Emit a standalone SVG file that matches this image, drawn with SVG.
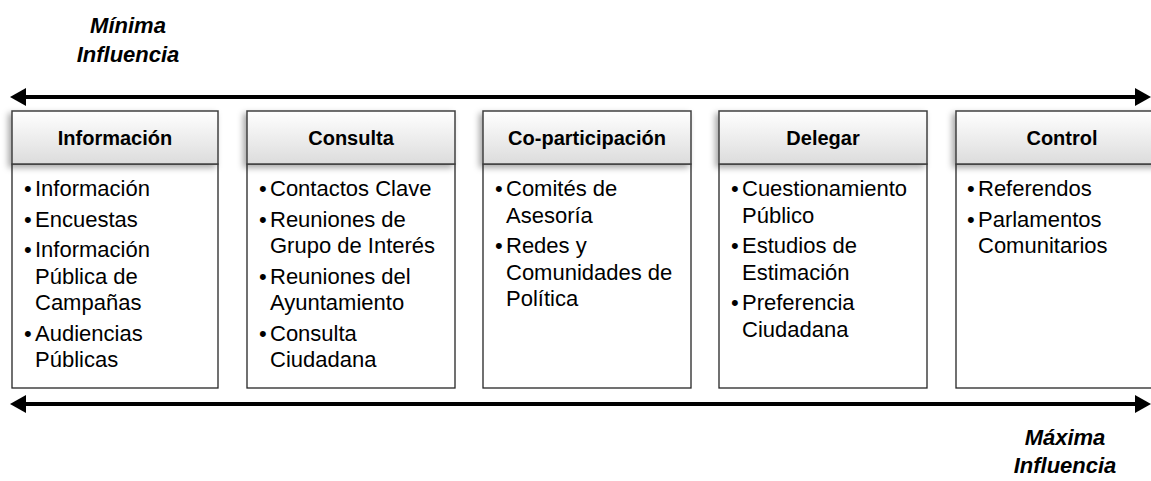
<svg xmlns="http://www.w3.org/2000/svg" width="1151" height="481" viewBox="0 0 1151 481">
<style>
.hdr{fill:url(#hg);stroke:#404040;stroke-width:1.5;filter:url(#sh)}
.body{fill:#ffffff;stroke:#262626;stroke-width:1.3}
.ht{font-family:"Liberation Sans",Arial,sans-serif;font-weight:bold;font-size:20px;fill:#000;text-anchor:middle}
.bt{font-family:"Liberation Sans",Arial,sans-serif;font-size:22px;fill:#000}
.tt{font-family:"Liberation Sans",Arial,sans-serif;font-weight:bold;font-style:italic;font-size:22px;fill:#000;text-anchor:middle}
.arr{stroke:#000;stroke-width:4;fill:none;marker-start:url(#ah);marker-end:url(#ah)}
</style>
<defs>
<linearGradient id="hg" x1="0" y1="0" x2="0" y2="1">
<stop offset="0" stop-color="#ffffff"/>
<stop offset="1" stop-color="#dcdcdc"/>
</linearGradient>
<filter id="sh" x="-10%" y="-20%" width="120%" height="150%">
<feDropShadow dx="-3" dy="3" stdDeviation="3" flood-color="#000" flood-opacity="0.35"/>
</filter>
<marker id="ah" markerUnits="userSpaceOnUse" markerWidth="18" markerHeight="18" refX="1" refY="9" orient="auto-start-reverse">
<path d="M0,0 L16,9 L0,18 z" fill="#000"/>
</marker>
</defs>
<rect width="1151" height="481" fill="#ffffff"/>
<text class="tt" x="128" y="33">Mínima</text>
<text class="tt" x="128" y="62">Influencia</text>
<text class="tt" x="1065" y="445">Máxima</text>
<text class="tt" x="1065" y="473">Influencia</text>
<g id="connectors">
<line class="arr" x1="25" y1="97" x2="1136" y2="97"/>
<line class="arr" x1="25" y1="404" x2="1136" y2="404"/>
</g>
<g id="n1">
<rect class="body" x="12" y="164" width="206" height="224"/>
<rect class="hdr" x="12" y="111" width="206" height="53"/>
<text class="ht" x="115" y="145">Información</text>
<text class="bt" x="24" y="196">•</text><text class="bt" x="35" y="196">Información</text>
<text class="bt" x="24" y="226.5">•</text><text class="bt" x="35" y="226.5">Encuestas</text>
<text class="bt" x="24" y="257">•</text><text class="bt" x="35" y="257">Información</text>
<text class="bt" x="35" y="283.5">Pública de</text>
<text class="bt" x="35" y="310">Campañas</text>
<text class="bt" x="24" y="340.5">•</text><text class="bt" x="35" y="340.5">Audiencias</text>
<text class="bt" x="35" y="367">Públicas</text>
</g>
<g id="n2">
<rect class="body" x="247" y="164" width="208" height="224"/>
<rect class="hdr" x="247" y="111" width="208" height="53"/>
<text class="ht" x="351" y="145">Consulta</text>
<text class="bt" x="259" y="196">•</text><text class="bt" x="270" y="196">Contactos Clave</text>
<text class="bt" x="259" y="226.5">•</text><text class="bt" x="270" y="226.5">Reuniones de</text>
<text class="bt" x="270" y="253">Grupo de Interés</text>
<text class="bt" x="259" y="283.5">•</text><text class="bt" x="270" y="283.5">Reuniones del</text>
<text class="bt" x="270" y="310">Ayuntamiento</text>
<text class="bt" x="259" y="340.5">•</text><text class="bt" x="270" y="340.5">Consulta</text>
<text class="bt" x="270" y="367">Ciudadana</text>
</g>
<g id="n3">
<rect class="body" x="483" y="164" width="208" height="224"/>
<rect class="hdr" x="483" y="111" width="208" height="53"/>
<text class="ht" x="587" y="145">Co-participación</text>
<text class="bt" x="495" y="196">•</text><text class="bt" x="506" y="196">Comités de</text>
<text class="bt" x="506" y="222.5">Asesoría</text>
<text class="bt" x="495" y="253">•</text><text class="bt" x="506" y="253">Redes y</text>
<text class="bt" x="506" y="279.5">Comunidades de</text>
<text class="bt" x="506" y="306">Política</text>
</g>
<g id="n4">
<rect class="body" x="719" y="164" width="208" height="224"/>
<rect class="hdr" x="719" y="111" width="208" height="53"/>
<text class="ht" x="823" y="145">Delegar</text>
<text class="bt" x="731" y="196">•</text><text class="bt" x="742" y="196">Cuestionamiento</text>
<text class="bt" x="742" y="222.5">Público</text>
<text class="bt" x="731" y="253">•</text><text class="bt" x="742" y="253">Estudios de</text>
<text class="bt" x="742" y="279.5">Estimación</text>
<text class="bt" x="731" y="310">•</text><text class="bt" x="742" y="310">Preferencia</text>
<text class="bt" x="742" y="336.5">Ciudadana</text>
</g>
<g id="n5">
<rect class="body" x="956" y="164" width="220" height="224"/>
<rect class="hdr" x="956" y="111" width="220" height="53"/>
<text class="ht" x="1062" y="145">Control</text>
<text class="bt" x="967" y="196">•</text><text class="bt" x="978" y="196">Referendos</text>
<text class="bt" x="967" y="226.5">•</text><text class="bt" x="978" y="226.5">Parlamentos</text>
<text class="bt" x="978" y="253">Comunitarios</text>
</g>
</svg>
